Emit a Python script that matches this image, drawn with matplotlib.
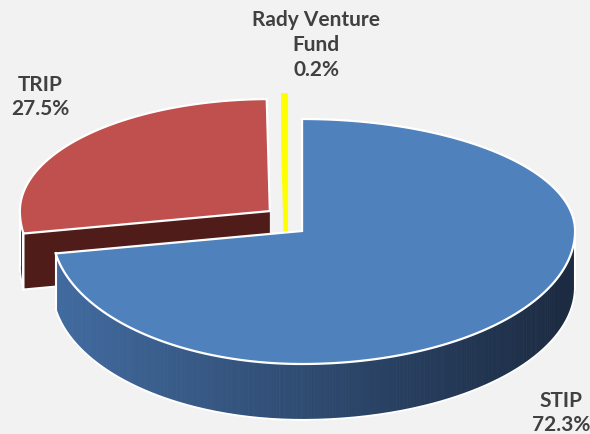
import numpy as np
import matplotlib
matplotlib.use("Agg")
import matplotlib.pyplot as plt
from matplotlib.collections import PolyCollection
from matplotlib.colors import to_rgb

plt.rcParams['font.family'] = ['Lato', 'DejaVu Sans']

# data
labels = ['STIP', 'TRIP', 'Rady Venture\nFund']
shares = [72.3, 27.5, 0.2]
top_colors = ['#4F81BD', '#C0504D', '#FFFF00']
side_left = ['#436EA4', '#4F1C1A', '#FFFF00']
side_right = ['#1C2B42', '#4F1C1A', '#FFFF00']

# layout, in pixels (y grows downward)
cx0, cy0 = 286, 222
a_left, a_right = 250, 273
b_top, b_bot = 112, 133
depth = 56
ex, ey = 21, 15.5

W, H = 590, 435
fig = plt.figure(figsize=(W / 100, H / 100), dpi=100)
fig.patch.set_facecolor('#F2F2F2')
ax = fig.add_axes([0, 0, 1, 1])
ax.set_xlim(0, W)
ax.set_ylim(H, 0)
ax.axis('off')


def pt(cx, cy, t):
    c, s = np.cos(t), np.sin(t)
    x = cx + np.where(c > 0, a_right, a_left) * c
    y = cy - np.where(s > 0, b_top, b_bot) * s
    return x, y


def grad(c1, c2, x):
    f = np.clip((x - 30) / (W - 60), 0, 1)
    c1, c2 = np.array(to_rgb(c1)), np.array(to_rgb(c2))
    return c1 + (c2 - c1) * f


fr = np.array(shares) / sum(shares)
cum = np.concatenate([[0], np.cumsum(fr)])
slices = []
for i in range(len(shares)):
    t1 = np.radians(90 - 360 * cum[i])      # start (larger angle)
    t2 = np.radians(90 - 360 * cum[i + 1])  # end
    mid = (t1 + t2) / 2
    cx = cx0 + ex * np.cos(mid)
    cy = cy0 - ey * np.sin(mid)
    slices.append((i, t1, t2, cx, cy))

# back to front
slices.sort(key=lambda s: s[4])

for n, (i, t1, t2, cx, cy) in enumerate(slices):
    z = 10 * (n + 1)
    thin = shares[i] < 1
    # radial faces that face the viewer
    for te, facing in ((t1, np.cos(t1) < 0), (t2, np.cos(t2) > 0)):
        if not (facing or thin):
            continue
        px, py = pt(cx, cy, te)
        xs = [cx, px, px, cx]
        ys = [cy, py, py + depth, cy + depth]
        col = grad(side_left[i], side_right[i], (cx + px) / 2)
        if thin:
            ax.fill(xs, ys, color=col, ec=col, lw=2.2, zorder=z)
        else:
            ax.fill(xs, ys, color=col, lw=0, zorder=z)
            ax.plot([px, px, cx], [py, py + depth, cy + depth], color='white',
                    lw=1.5, zorder=z + 1)

    # curved outer side, front part only
    ts = np.linspace(t2, t1, 400)
    ts = ts[np.sin(ts) <= 0.02]
    if len(ts) > 1 and not thin:
        xs, ys = pt(cx, cy, ts)
        polys, cols = [], []
        for k in range(len(ts) - 1):
            polys.append([(xs[k], ys[k]), (xs[k + 1], ys[k + 1]),
                          (xs[k + 1], ys[k + 1] + depth), (xs[k], ys[k] + depth)])
            cols.append(grad(side_left[i], side_right[i], xs[k]))
        ax.add_collection(PolyCollection(polys, facecolors=cols, edgecolors=cols,
                                         linewidths=0.6, zorder=z + 2))
        ax.plot(xs, ys + depth, color='white', lw=1.5, zorder=z + 3)
        ax.plot([xs[0], xs[0]], [ys[0], ys[0] + depth], color='white', lw=1.5, zorder=z + 3)
        ax.plot([xs[-1], xs[-1]], [ys[-1], ys[-1] + depth], color='white', lw=1.5, zorder=z + 3)

    # top face
    ts = np.linspace(t2, t1, 600)
    xs, ys = pt(cx, cy, ts)
    px = np.concatenate([[cx], xs, [cx]])
    py = np.concatenate([[cy], ys, [cy]])
    if thin:
        ax.fill(px, py, color=top_colors[i], ec=top_colors[i], lw=2.2, zorder=z + 4)
    else:
        ax.fill(px, py, color=top_colors[i], ec='white', lw=1.6, zorder=z + 4)

# labels
label_pos = {0: (561, 413), 1: (40, 97), 2: (316, 45)}
for i, lab in enumerate(labels):
    x, y = label_pos[i]
    ax.text(x, y, f"{lab}\n{shares[i]}%", ha='center', va='center',
            multialignment='center', fontsize=15, fontweight='bold',
            color='#404040', linespacing=1.3, zorder=100)

fig.savefig('out.png', dpi=100, facecolor=fig.get_facecolor())
